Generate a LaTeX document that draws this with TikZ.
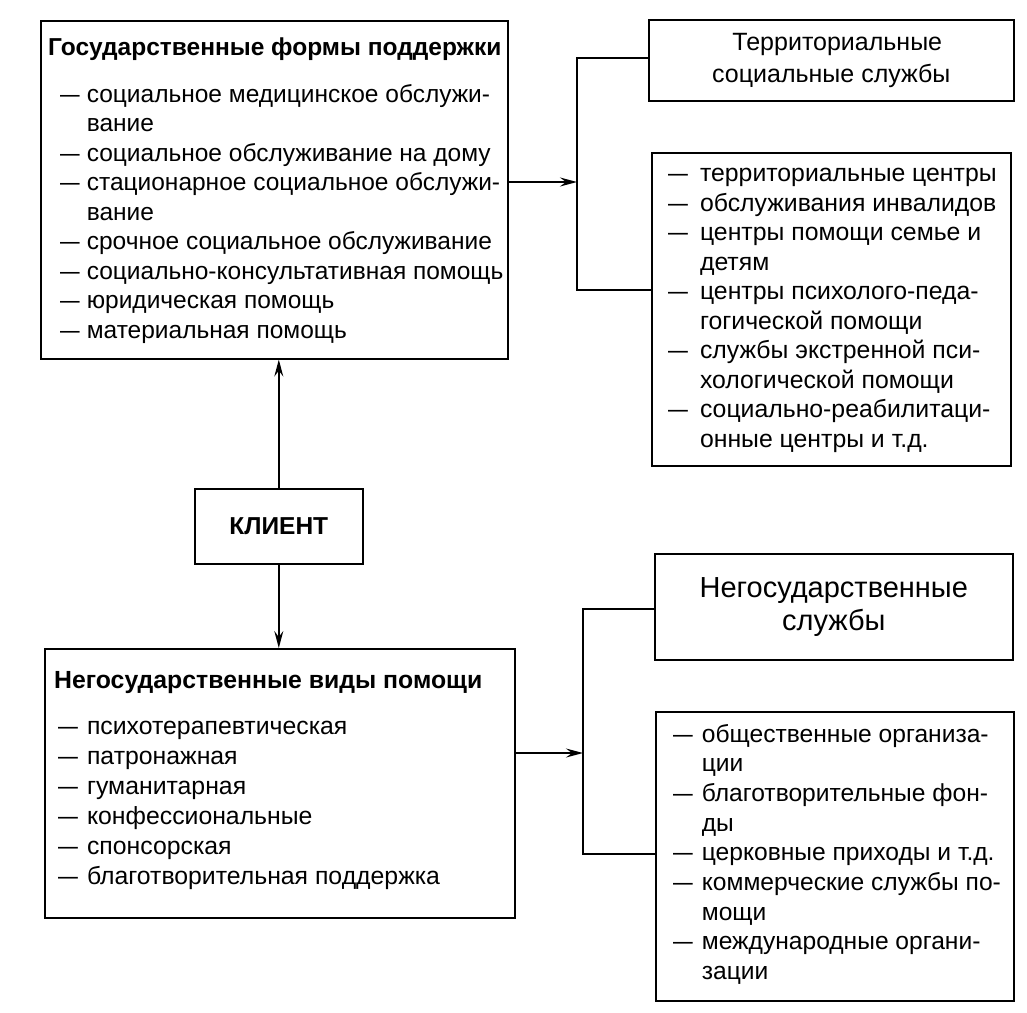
\documentclass[tikz,border=0pt]{standalone}
\usepackage{fontspec}
\setmainfont{Liberation Sans}
\usetikzlibrary{arrows.meta,calc}
\newcommand{\dsh}{\scalebox{0.8}[1]{—}}
\begin{document}
\begin{tikzpicture}[x=1pt,y=-1pt,
  box/.style={draw, line width=1.6pt, rectangle, anchor=north west, inner sep=0pt},
  conn/.style={line width=1.4pt},
  arr/.style={conn, -{Stealth[length=17pt,width=9pt,inset=6pt]}},
  txt/.style={anchor=north west, inner sep=0pt, align=left}]
\useasboundingbox (0,0) rectangle (1027,1012);
\fill[white] (0,0) rectangle (1027,1012);

% boxes
\node[box, minimum width=467pt, minimum height=338pt] (gos) at (40,20) {};
\node[box, minimum width=365pt, minimum height=81pt, align=center,
      font=\fontsize{25}{32}\selectfont] (tr1) at (648,19)
      {\hspace*{12pt}Территориальные\\социальные службы};
\node[box, minimum width=359pt, minimum height=313pt] (tr2) at (651,152) {};
\node[box, minimum width=168pt, minimum height=75pt,
      font=\bfseries\fontsize{24.5}{28}\selectfont] (client) at (194,488) {КЛИЕНТ};
\node[box, minimum width=470pt, minimum height=269pt] (ng) at (44,648) {};
\node[box, minimum width=358pt, minimum height=106pt, align=center,
      font=\fontsize{29}{33}\selectfont] (br1) at (654,553)
      {Негосударственные\\службы};
\node[box, minimum width=358pt, minimum height=289pt] (br2) at (655,711) {};

% texts
\node[txt, font=\fontsize{24.5}{29.5}\selectfont] (gostext) at (48,34.4) {%
\begin{tabular}{@{\hspace{12pt}}l@{\hspace{7pt}}l@{}}
\multicolumn{2}{@{}l@{}}{\bfseries Государственные формы поддержки}\\[17.5pt]
\dsh & социальное медицинское обслужи-\\
  & вание\\
\dsh & социальное обслуживание на дому\\
\dsh & стационарное социальное обслужи-\\
  & вание\\
\dsh & срочное социальное обслуживание\\
\dsh & социально-консультативная помощь\\
\dsh & юридическая помощь\\
\dsh & материальная помощь
\end{tabular}};

\node[txt, font=\fontsize{24.8}{29.5}\selectfont] (tr2text) at (668,161) {%
\begin{tabular}{@{}l@{\hspace{12pt}}l@{}}
\dsh & территориальные центры\\
\dsh & обслуживания инвалидов\\
\dsh & центры помощи семье и\\
  & детям\\
\dsh & центры психолого-педа-\\
  & гогической помощи\\
\dsh & службы экстренной пси-\\
  & хологической помощи\\
\dsh & социально-реабилитаци-\\
  & онные центры и т.д.
\end{tabular}};

\node[txt, font=\fontsize{24.8}{30}\selectfont] (ngtext) at (54,667) {%
\begin{tabular}{@{\hspace{4pt}}l@{\hspace{9pt}}l@{}}
\multicolumn{2}{@{}l@{}}{\bfseries Негосударственные виды помощи}\\[16pt]
\dsh & психотерапевтическая\\
\dsh & патронажная\\
\dsh & гуманитарная\\
\dsh & конфессиональные\\
\dsh & спонсорская\\
\dsh & благотворительная поддержка
\end{tabular}};

\node[txt, font=\fontsize{24.6}{29.7}\selectfont] (br2text) at (673,721) {%
\begin{tabular}{@{}l@{\hspace{9pt}}l@{}}
\dsh & общественные организа-\\
  & ции\\
\dsh & благотворительные фон-\\
  & ды\\
\dsh & церковные приходы и т.д.\\
\dsh & коммерческие службы по-\\
  & мощи\\
\dsh & международные органи-\\
  & зации
\end{tabular}};

% brackets
\coordinate (b1top) at (577,58);
\coordinate (b1mid) at (577,182);
\coordinate (b1bot) at (577,290);
\draw[conn] (tr1.west |- b1top) -- (b1top) -- (b1bot) -- (tr2.west |- b1bot);
\draw[arr] (gos.east |- b1mid) -- (b1mid);

\coordinate (b2top) at (583,609);
\coordinate (b2mid) at (583,753);
\coordinate (b2bot) at (583,854);
\draw[conn] (br1.west |- b2top) -- (b2top) -- (b2bot) -- (br2.west |- b2bot);
\draw[arr] (ng.east |- b2mid) -- (b2mid);

% client arrows
\draw[arr] (client.north) -- (client.north |- gos.south);
\draw[arr] (client.south) -- (client.south |- ng.north);
\end{tikzpicture}
\end{document}
